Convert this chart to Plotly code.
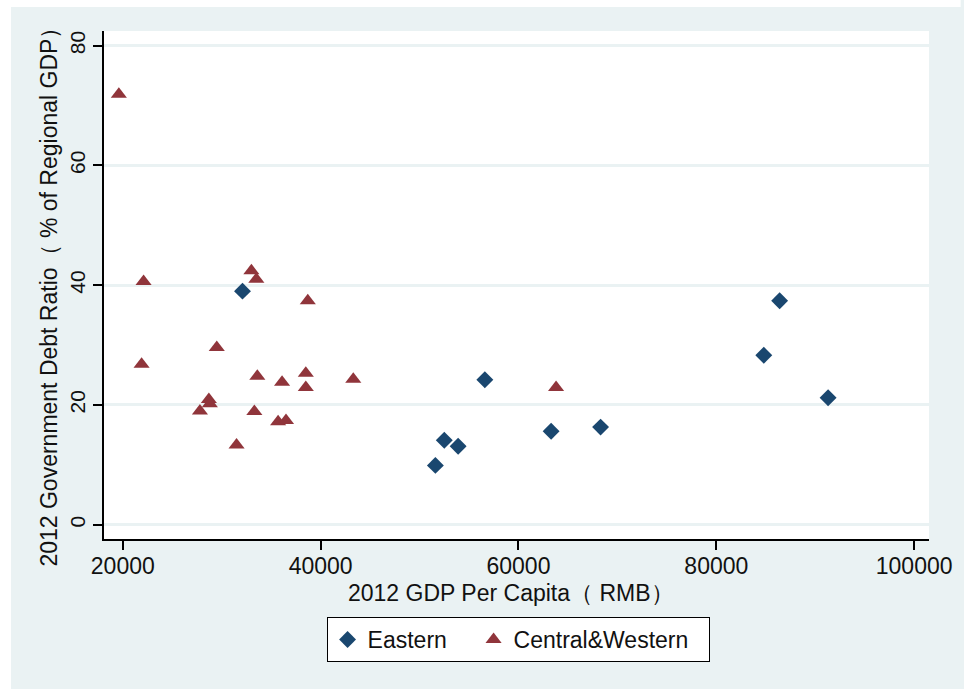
import plotly.graph_objects as go

# ---- data ----
eastern_gdp = [32100, 56600, 52500, 53900, 51600, 63300, 68300, 84800, 86400, 91300]
eastern_debt = [39.0, 24.2, 14.1, 13.1, 9.9, 15.6, 16.3, 28.3, 37.4, 21.2]

cw_gdp = [19600, 22100, 33000, 33500, 38700, 29500, 21900, 33600, 36100, 38500,
          38500, 43300, 28700, 28800, 27800, 33300, 35700, 36500, 31500, 63800]
cw_debt = [71.9, 40.6, 42.4, 41.0, 37.4, 29.6, 26.8, 24.8, 23.8, 25.3,
           22.9, 24.3, 20.9, 20.2, 19.0, 18.9, 17.2, 17.4, 13.3, 22.9]

x_ticks = [20000, 40000, 60000, 80000, 100000]
y_ticks = [0, 20, 40, 60, 80]

series_names = ["Eastern", "Central&Western"]
x_title = "2012 GDP Per Capita（ RMB）"
y_title = "2012 Government Debt Ratio（ % of Regional GDP）"

# ---- styling ----
BG = "#EAF2F3"
NAVY = "#1A476F"
MAROON = "#90353B"
FONT = "Liberation Sans, Arial, sans-serif"
TXT = "#111111"

fig = go.Figure()
fig.add_trace(go.Scatter(
    x=eastern_gdp, y=eastern_debt, mode="markers", name=series_names[0],
    marker=dict(symbol="diamond", size=13, color=NAVY, line=dict(width=0)),
    legendwidth=101,
))
fig.add_trace(go.Scatter(
    x=cw_gdp, y=cw_debt, mode="markers", name=series_names[1],
    marker=dict(symbol="triangle-up", size=14, color=MAROON, line=dict(width=0)),
    legendwidth=190,
))

# plot area in page pixels: x 104..938, y 31..539
def px(xp):
    return (xp - 104) / 834.0

def py(yp):
    return (539 - yp) / 508.0

fig.update_layout(
    width=964, height=689,
    margin=dict(l=104, r=26, t=31, b=150, pad=0),
    paper_bgcolor=BG,
    plot_bgcolor="white",
    font=dict(family=FONT, color=TXT, size=22),
    showlegend=True,
    legend=dict(
        orientation="h",
        x=px(329), xanchor="left",
        y=py(617), yanchor="top",
        bgcolor="white",
        bordercolor="#000000", borderwidth=1,
        font=dict(size=23, family=FONT, color=TXT),
    ),
    xaxis=dict(
        range=[18100, 101500],
        tickvals=x_ticks, tickformat="d",
        showgrid=False, zeroline=False,
        showline=True, linecolor="#000000", linewidth=1.5,
        ticks="outside", ticklen=9, tickwidth=1.5, tickcolor="#000000",
        ticklabelstandoff=-3,
        tickfont=dict(size=23, family=FONT, color=TXT),
    ),
    yaxis=dict(
        range=[-2.39, 82.45],
        tickvals=y_ticks,
        showgrid=True, gridcolor=BG, gridwidth=3,
        zeroline=True, zerolinecolor=BG, zerolinewidth=3,
        showline=True, linecolor="#000000", linewidth=1.5,
        ticks="outside", ticklen=9, tickwidth=1.5, tickcolor="#000000",
        tickangle=-90,
        tickfont=dict(size=21, family=FONT, color=TXT),
    ),
    annotations=[
        dict(text=x_title, xref="paper", yref="paper", x=px(515), y=py(593),
             xanchor="center", yanchor="middle", showarrow=False,
             font=dict(size=23, family=FONT, color=TXT)),
        dict(text=y_title, xref="paper", yref="paper", x=px(48), y=py(291),
             xanchor="center", yanchor="middle", showarrow=False, textangle=-90,
             font=dict(size=23, family=FONT, color=TXT)),
    ],
    shapes=[
        dict(type="rect", xref="paper", yref="paper",
             x0=px(-5), x1=px(10), y0=py(700), y1=py(-5),
             fillcolor="white", line=dict(width=0), layer="above"),
        dict(type="rect", xref="paper", yref="paper",
             x0=px(-5), x1=px(970), y0=py(7), y1=py(-5),
             fillcolor="white", line=dict(width=0), layer="above"),
    ],
)

fig.write_html(
    "out.html",
    config=dict(displayModeBar=False),
    post_script="document.body.style.margin='0';document.body.style.overflow='hidden';",
)
